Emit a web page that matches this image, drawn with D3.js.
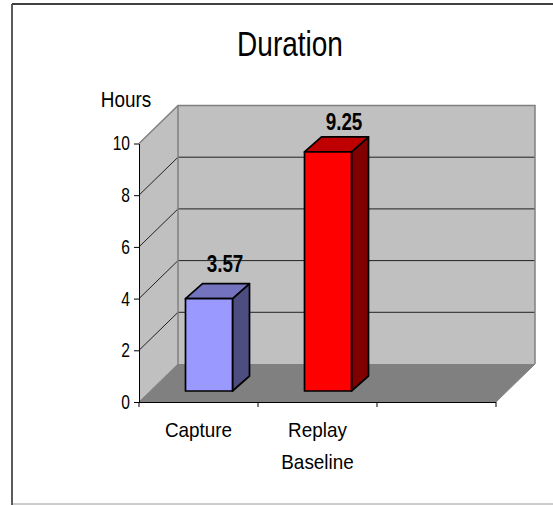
<!DOCTYPE html>
<html><head><meta charset="utf-8">
<script src="https://cdn.jsdelivr.net/npm/d3@7"></script>
<style>html,body{margin:0;padding:0;background:#fff}svg{display:block}text{font-family:"Liberation Sans",Arial,sans-serif;fill:#000}</style>
</head><body><svg id="c" width="553" height="505"></svg>
<script>
const categories = ["Capture", "Replay Baseline", ""];
const categoryLines = [["Capture"], ["Replay", "Baseline"], []];
const values = [3.57, 9.25];
const barFront = ["#9999ff", "#ff0000"];
const barTop = ["#7373bf", "#bf0000"];
const barSide = ["#4d4d80", "#800000"];
const yTicks = [0, 2, 4, 6, 8, 10];
const title = "Duration";
const yTitle = "Hours";

const svg = d3.select("#c");
const x = d3.scaleBand().domain(categories).range([139, 496]);
const y = d3.scaleLinear().domain([0, 10]).range([402, 143.5]);
const dx = 39, dy = 38;
const barW = 47, bdx = 17, bdy = 15, off = 11;
const labelLift = [26.5, 22];
const poly = pts => pts.map(p => p.join(",")).join(" ");
// condensed text: real text, horizontally squeezed around its anchor
const put = (px, py, size, sx, str, weight) => svg.append("text")
  .attr("transform", `translate(${px},${py}) scale(${sx},1)`)
  .attr("text-anchor", "middle").style("font-size", size + "px")
  .style("font-weight", weight || "normal").text(str);

svg.append("line").attr("x1", 12).attr("x2", 553).attr("y1", 4).attr("y2", 4).attr("stroke", "#000").attr("stroke-width", 1.3);
svg.append("line").attr("x1", 12).attr("x2", 12).attr("y1", 4).attr("y2", 505).attr("stroke", "#333").attr("stroke-width", 1.6);
svg.append("line").attr("x1", 13).attr("x2", 553).attr("y1", 504).attr("y2", 504).attr("stroke", "#bbb").attr("stroke-width", 1.3);

const L = x.range()[0], R = x.range()[1], Y0 = y(0), Y1 = y(10);
svg.append("polygon").attr("points", poly([[L,Y0],[L+dx,Y0-dy],[L+dx,Y1-dy],[L,Y1]])).attr("fill", "#c0c0c0");
svg.append("polygon").attr("points", poly([[L+dx,Y0-dy],[R+dx,Y0-dy],[R+dx,Y1-dy],[L+dx,Y1-dy]])).attr("fill", "#c0c0c0");
svg.append("polygon").attr("points", poly([[L,Y0],[R,Y0],[R+dx,Y0-dy],[L+dx,Y0-dy]])).attr("fill", "#808080");
yTicks.filter(t => t > 0 && t < 10).forEach(t => {
  svg.append("polyline").attr("points", poly([[L,y(t)],[L+dx,y(t)-dy],[R+dx,y(t)-dy]]))
    .attr("fill", "none").attr("stroke", "#222").attr("stroke-width", 1);
});
svg.append("polyline").attr("points", poly([[L,Y1],[L+dx,Y1-dy],[R+dx,Y1-dy],[R+dx,Y0-dy]]))
  .attr("fill", "none").attr("stroke", "#808080").attr("stroke-width", 1.5);
svg.append("line").attr("x1", L+dx).attr("x2", L+dx).attr("y1", Y1-dy).attr("y2", Y0-dy)
  .attr("stroke", "#808080").attr("stroke-width", 1.5);
svg.append("line").attr("x1", L).attr("x2", L+dx).attr("y1", Y0).attr("y2", Y0-dy).attr("stroke", "#808080");
svg.append("line").attr("x1", R).attr("x2", R+dx).attr("y1", Y0).attr("y2", Y0-dy).attr("stroke", "#808080");

const yAxis = d3.axisLeft(y).tickValues(yTicks).tickSize(5).tickPadding(2).tickSizeOuter(0);
const gy = svg.append("g").attr("transform", `translate(${L},0)`).call(yAxis);
gy.selectAll("path,line").attr("stroke", "#000");
gy.selectAll("text").style("font-size", "20px").attr("text-anchor", "end")
  .attr("transform", "translate(-9,0) scale(.78,1)").attr("x", 0);
const edges = d3.range(categories.length + 1).map(i => L + i * x.step());
svg.append("line").attr("x1", L).attr("x2", R).attr("y1", Y0+.5).attr("y2", Y0+.5).attr("stroke", "#000");
svg.selectAll(".xt").data(edges).join("line").attr("x1", d => d).attr("x2", d => d)
  .attr("y1", Y0).attr("y2", Y0+5).attr("stroke", "#000");
categories.forEach((c, i) => {
  categoryLines[i].forEach((ln, j) => {
    put(x(c) + x.step()/2, 437 + j*32, 21, .9, ln);
  });
});

values.forEach((v, i) => {
  const c = categories[i];
  const x0 = x(c) + (x.step() - barW)/2 + off - 0.5, x1 = x0 + barW;
  const bot = y(0) - off, top = y(v) - off;
  const g = svg.append("g").attr("stroke", "#000").attr("stroke-width", 1.7).attr("stroke-linejoin", "round");
  g.append("polygon").attr("points", poly([[x1,top],[x1+bdx,top-bdy],[x1+bdx,bot-bdy],[x1,bot]])).attr("fill", barSide[i]);
  g.append("polygon").attr("points", poly([[x0,top],[x0+bdx,top-bdy],[x1+bdx,top-bdy],[x1,top]])).attr("fill", barTop[i]);
  g.append("rect").attr("x", x0).attr("y", top).attr("width", barW).attr("height", bot-top).attr("fill", barFront[i]);
  put(x0 + barW/2 + 16, top - labelLift[i], 23, .82, v.toFixed(2), "bold");
});

put(290, 56, 35, .8, title);
put(126, 107, 22, .86, yTitle);
</script></body></html>
